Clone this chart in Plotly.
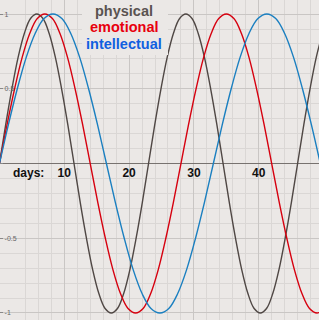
import plotly.graph_objects as go

# Points every 1/24 of each cycle
phys_days = [0, 0.958, 1.917, 2.875, 3.833, 4.792, 5.75, 6.708, 7.667, 8.625, 9.583, 10.542,
             11.5, 12.458, 13.417, 14.375, 15.333, 16.292, 17.25, 18.208, 19.167, 20.125, 21.083, 22.042,
             23, 23.958, 24.917, 25.875, 26.833, 27.792, 28.75, 29.708, 30.667, 31.625, 32.583, 33.542,
             34.5, 35.458, 36.417, 37.375, 38.333, 39.292, 40.25, 41.208, 42.167, 43.125, 44.083, 45.042,
             46, 46.958, 47.917, 48.875, 49.833]
phys_vals = [0, 0.26, 0.5, 0.71, 0.87, 0.97, 1, 0.97, 0.87, 0.71, 0.5, 0.26,
             0, -0.26, -0.5, -0.71, -0.87, -0.97, -1, -0.97, -0.87, -0.71, -0.5, -0.26,
             0, 0.26, 0.5, 0.71, 0.87, 0.97, 1, 0.97, 0.87, 0.71, 0.5, 0.26,
             0, -0.26, -0.5, -0.71, -0.87, -0.97, -1, -0.97, -0.87, -0.71, -0.5, -0.26,
             0, 0.26, 0.5, 0.71, 0.87]

emo_days = [0, 1.167, 2.333, 3.5, 4.667, 5.833, 7, 8.167, 9.333, 10.5, 11.667, 12.833,
            14, 15.167, 16.333, 17.5, 18.667, 19.833, 21, 22.167, 23.333, 24.5, 25.667, 26.833,
            28, 29.167, 30.333, 31.5, 32.667, 33.833, 35, 36.167, 37.333, 38.5, 39.667, 40.833,
            42, 43.167, 44.333, 45.5, 46.667, 47.833, 49, 50.167]
emo_vals = [0, 0.26, 0.5, 0.71, 0.87, 0.97, 1, 0.97, 0.87, 0.71, 0.5, 0.26,
            0, -0.26, -0.5, -0.71, -0.87, -0.97, -1, -0.97, -0.87, -0.71, -0.5, -0.26,
            0, 0.26, 0.5, 0.71, 0.87, 0.97, 1, 0.97, 0.87, 0.71, 0.5, 0.26,
            0, -0.26, -0.5, -0.71, -0.87, -0.97, -1, -0.97]

int_days = [0, 1.375, 2.75, 4.125, 5.5, 6.875, 8.25, 9.625, 11, 12.375, 13.75, 15.125,
            16.5, 17.875, 19.25, 20.625, 22, 23.375, 24.75, 26.125, 27.5, 28.875, 30.25, 31.625,
            33, 34.375, 35.75, 37.125, 38.5, 39.875, 41.25, 42.625, 44, 45.375, 46.75, 48.125, 49.5]
int_vals = [0, 0.26, 0.5, 0.71, 0.87, 0.97, 1, 0.97, 0.87, 0.71, 0.5, 0.26,
            0, -0.26, -0.5, -0.71, -0.87, -0.97, -1, -0.97, -0.87, -0.71, -0.5, -0.26,
            0, 0.26, 0.5, 0.71, 0.87, 0.97, 1, 0.97, 0.87, 0.71, 0.5, 0.26, 0]

series_names = ["physical", "emotional", "intellectual"]
line_colors = ["#4f4744", "#d6000f", "#1a7fc0"]
text_colors = ["#5a5350", "#e8000e", "#1060e0"]

x_tick_vals = [4.5, 10, 20, 30, 40]
x_tick_text = ["days:", "10", "20", "30", "40"]
y_tick_vals = [-1, -0.5, 0, 0.5, 1]
y_tick_text = ["-1", "-0.5", "", "0.5", "1"]

BG = "#ebe8e6"
Y_RANGE = [-1.047, 1.094]
X_RANGE = [0.08, 49.3]

fig = go.Figure()
for d, v, c, n in zip([phys_days, emo_days, int_days], [phys_vals, emo_vals, int_vals], line_colors, series_names):
    fig.add_trace(go.Scatter(x=d, y=v, mode="lines", name=n,
                             line=dict(color=c, width=1.4, shape="spline", smoothing=1),
                             showlegend=False, hoverinfo="skip"))

# invisible trace to host the labelled x axis at y = 0
fig.add_trace(go.Scatter(x=[X_RANGE[0]], y=[0], xaxis="x2", mode="markers",
                         marker=dict(opacity=0), showlegend=False, hoverinfo="skip"))

zero_frac = -Y_RANGE[0] / (Y_RANGE[1] - Y_RANGE[0])

fig.update_layout(
    width=319, height=320,
    margin=dict(l=0, r=0, t=0, b=0),
    paper_bgcolor=BG, plot_bgcolor=BG,
    xaxis=dict(range=X_RANGE, dtick=10, tick0=0, showgrid=True, gridcolor="#c9c6c4", gridwidth=1,
               showticklabels=False, zeroline=False, showline=False,
               minor=dict(dtick=2, tick0=0, showgrid=True, gridcolor="#dad7d5", gridwidth=1)),
    xaxis2=dict(range=X_RANGE, overlaying="x", anchor="free", position=zero_frac, side="bottom",
                tickmode="array", tickvals=x_tick_vals, ticktext=x_tick_text,
                showgrid=False, zeroline=False, showline=False, ticks="",
                tickfont=dict(family="Liberation Sans", size=12, color="#111111", weight="bold")),
    yaxis=dict(range=Y_RANGE, tickmode="array", tickvals=y_tick_vals, ticktext=y_tick_text,
               showgrid=True, gridcolor="#c9c6c4", gridwidth=1,
               zeroline=True, zerolinecolor="#77726f", zerolinewidth=1,
               ticks="inside", ticklen=3, tickcolor="#888888",
               ticklabelposition="inside", showline=False,
               tickfont=dict(family="Liberation Sans", size=7, color="#666666"),
               minor=dict(dtick=0.1, tick0=0, showgrid=True, gridcolor="#dad7d5", gridwidth=1)),
)

fig.add_shape(type="rect", xref="paper", yref="paper", x0=82/319, x1=168/319, y0=1-55/320, y1=1,
              fillcolor=BG, line=dict(width=0), layer="above")

legend_y = [1 - 11/320, 1 - 27/320, 1 - 44/320]
for n, c, yy in zip(series_names, text_colors, legend_y):
    fig.add_annotation(text=n, xref="paper", yref="paper", x=124/319, y=yy,
                       xanchor="center", yanchor="middle", showarrow=False,
                       font=dict(family="Liberation Sans", size=14.5, color=c, weight="bold"))

fig.write_html("out.html")
